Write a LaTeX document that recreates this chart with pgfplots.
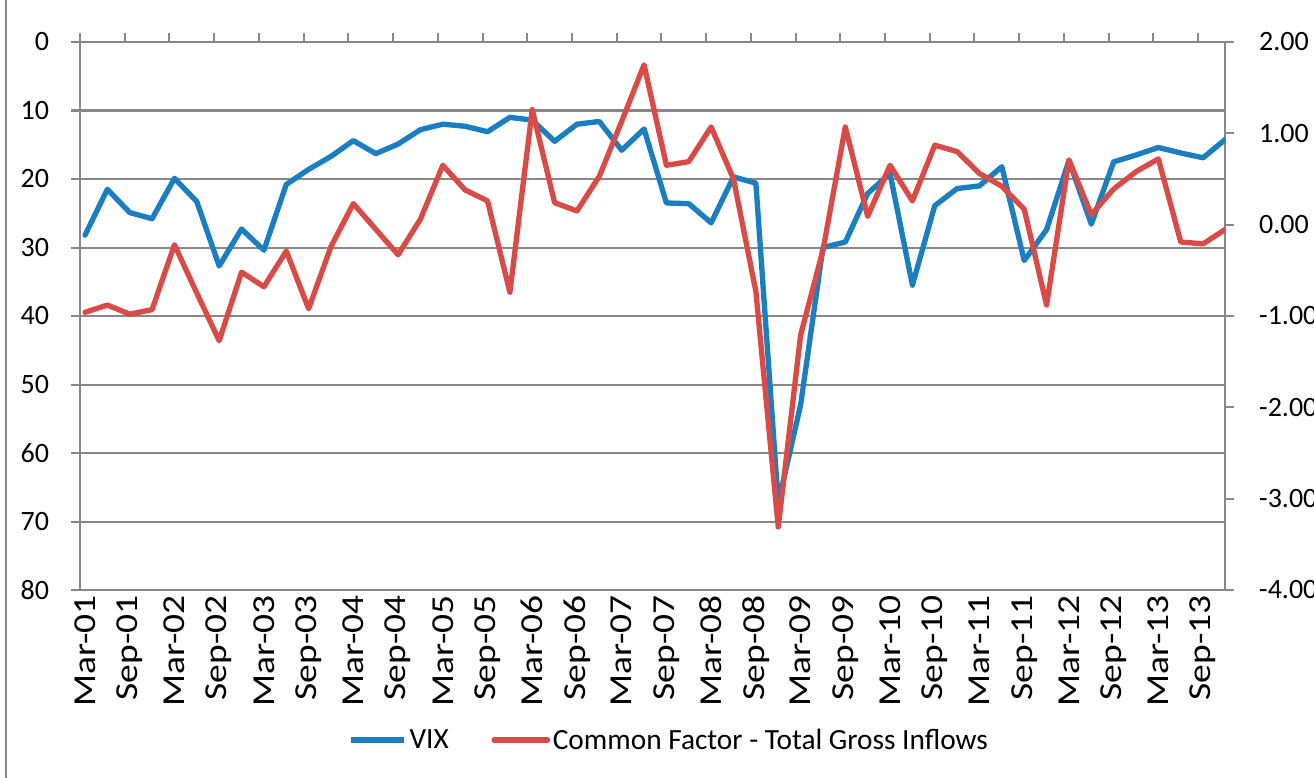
\documentclass[border=0pt]{standalone}
\usepackage{fontspec}
\setmainfont{Carlito}
\usepackage{pgfplots}
\usepackage{pgfplotstable}
\pgfplotsset{compat=1.18}
\definecolor{vixblue}{HTML}{1A7EC1}
\definecolor{facred}{HTML}{D94B47}
\definecolor{gridgray}{HTML}{888888}

\pgfplotstableread{
k vix fac
0 28.2 -0.96
1 21.5 -0.88
2 24.9 -0.98
3 25.8 -0.93
4 19.9 -0.22
5 23.3 -0.75
6 32.7 -1.27
7 27.3 -0.52
8 30.4 -0.68
9 20.8 -0.29
10 18.6 -0.92
11 16.7 -0.24
12 14.4 0.23
13 16.3 -0.05
14 14.9 -0.33
15 12.8 0.06
16 12.0 0.65
17 12.3 0.38
18 13.1 0.26
19 11.0 -0.74
20 11.4 1.26
21 14.5 0.24
22 12.0 0.15
23 11.6 0.53
24 15.8 1.13
25 12.7 1.75
26 23.5 0.65
27 23.6 0.69
28 26.4 1.07
29 19.7 0.50
30 20.6 -0.73
31 67.3 -3.31
32 53.0 -1.21
33 30.0 -0.28
34 29.2 1.07
35 22.1 0.09
36 19.2 0.65
37 35.5 0.26
38 23.9 0.87
39 21.4 0.80
40 21.0 0.56
41 18.2 0.42
42 31.9 0.17
43 27.4 -0.88
44 17.3 0.71
45 26.6 0.11
46 17.5 0.39
47 16.5 0.58
48 15.4 0.72
49 16.2 -0.19
50 16.9 -0.21
51 14.2 -0.05
}\datatable

\begin{document}
\begin{tikzpicture}
\useasboundingbox (0,0) rectangle (985.5pt,583.5pt);
\draw[gridgray, line width=1.5pt] (4.5pt,0pt) -- (4.5pt,583.5pt);
\pgfplotsset{base/.style={scale only axis, width=859.1pt, height=411pt,
  at={(60pt,141pt)}, anchor=south west, xmin=-0.224, xmax=51,
  /pgf/number format/assume math mode=true}}
% axis 1: VIX (left, reversed)
\begin{axis}[base, ymin=0, ymax=80, y dir=reverse,
  xtick=\empty, ytick={0,10,...,80},
  ymajorgrids, grid style={gridgray, line width=1.5pt},
  ytick pos=left, tick align=outside, major tick length=6.75pt,
  tick style={gridgray, line width=1.5pt},
  axis line style={gridgray, line width=1.5pt},
  yticklabel style={font=\fontsize{21}{25}\selectfont, text=black, xshift=-13pt}]
\addplot[vixblue, line width=4pt, line join=round, line cap=round] table[x=k, y=vix]{\datatable};
\end{axis}
% axis 2: common factor (right)
\begin{axis}[base, ymin=-4, ymax=2,
  axis line style={draw=none},
  ytick={-4,-3,...,2},
  yticklabels={-4.00,-3.00,-2.00,-1.00,0.00,1.00,2.00},
  ytick pos=right,
  xtick={-0.224,1.776,...,49.8}, xticklabels={},
  xtick pos=right,
  tick align=outside, major tick length=6.75pt,
  tick style={gridgray, line width=1.5pt},
  yticklabel style={font=\fontsize{21}{25}\selectfont, text=black, xshift=15pt},
  legend style={at={(0.5146,-0.2737)}, anchor=center, draw=none, fill=none,
    legend columns=2, font=\fontsize{22}{26}\selectfont,
    /tikz/every even column/.append style={column sep=30pt}},
  legend image code/.code={\draw[#1] (0pt,0pt) -- (40pt,0pt);}]
\addlegendimage{vixblue, line width=4pt}
\addlegendentry{VIX}
\addplot[facred, line width=4pt, line join=round, line cap=round] table[x=k, y=fac]{\datatable};
\addlegendentry{Common Factor - Total Gross Inflows}
\end{axis}
% axis 3: category labels
\begin{axis}[base, ymin=0, ymax=1,
  axis line style={draw=none}, ytick=\empty,
  xtick={0,2,...,50},
  xticklabels={Mar-01,Sep-01,Mar-02,Sep-02,Mar-03,Sep-03,Mar-04,Sep-04,Mar-05,Sep-05,Mar-06,Sep-06,Mar-07,Sep-07,Mar-08,Sep-08,Mar-09,Sep-09,Mar-10,Sep-10,Mar-11,Sep-11,Mar-12,Sep-12,Mar-13,Sep-13},
  xtick pos=left, xticklabel pos=left, xtick style={draw=none},
  xticklabel style={rotate=90, xscale=1.17, anchor=east, font=\fontsize{24}{28}\selectfont, text=black}]
\end{axis}
\end{tikzpicture}
\end{document}
